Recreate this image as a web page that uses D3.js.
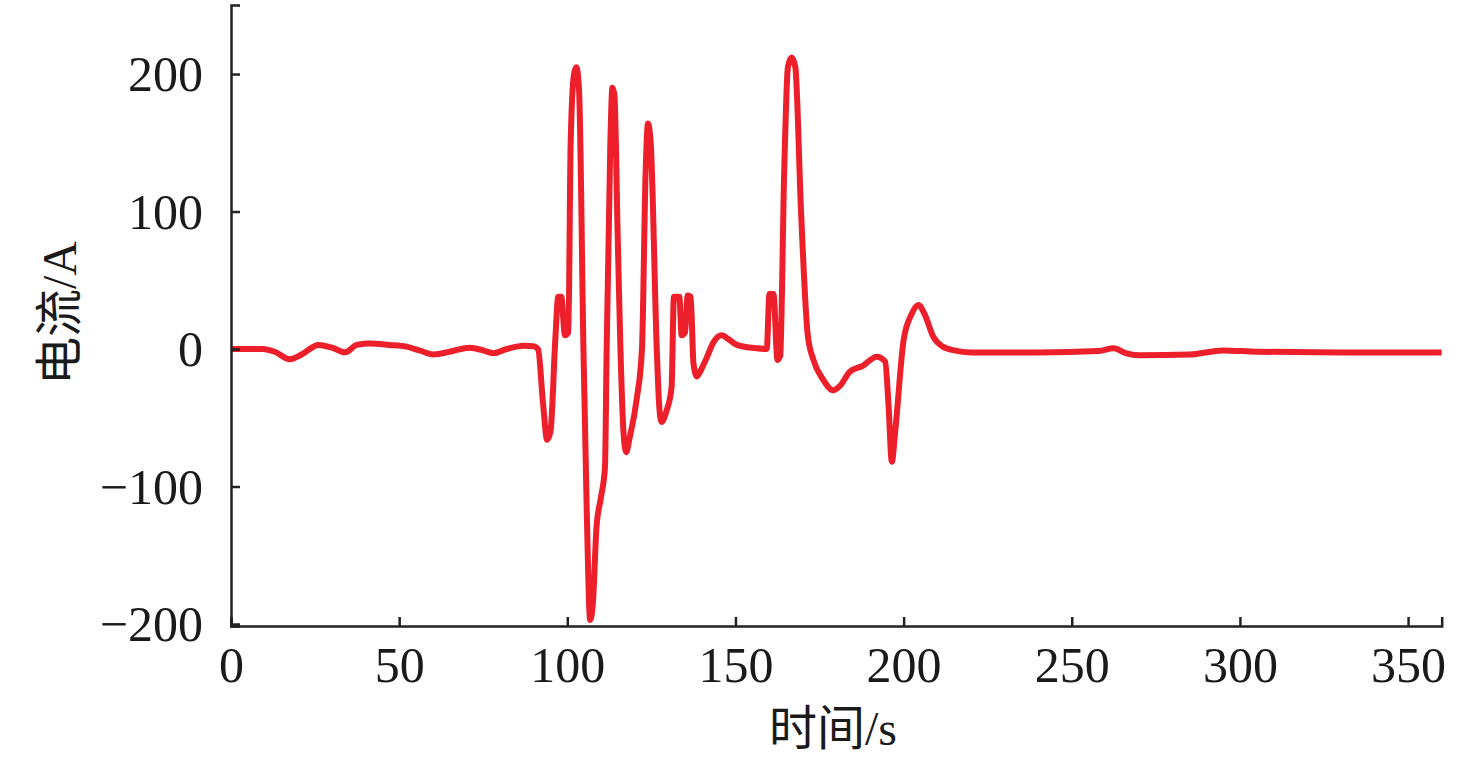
<!DOCTYPE html>
<html>
<head>
<meta charset="utf-8">
<script src="https://cdn.jsdelivr.net/npm/d3@7"></script>
<style>
  html, body { margin: 0; padding: 0; background: #fff; }
  svg text { font-family: "Liberation Serif", "Times New Roman", "Noto Sans CJK SC", serif; fill: #1a1a1a; }
</style>
</head>
<body>
<svg id="chart" width="1476" height="762"></svg>
<script>
// ---- data ----
const timeS = [0,5,9.5,13,17.5,21,26,30,34,37.4,
  41.3,47,52.2,56,60.2,65,71,75,78,82,
  87,90,91.3,92.8,94,95,96.5,97.3,98.2,99.3,
  100.3,101,102,102.7,103.5,104.8,105.8,106.8,107.6,108.7,
  110,111.2,111.7,112.8,113.4,114,115,115.8,116.7,117.5,
  118.5,120.6,122.2,123.3,124,124.8,126.6,127.3,128,129.5,
  131,131.7,133.3,134,135,135.8,136.7,137.5,138.5,140,
  141.5,143.5,145.9,148,150.4,156.3,159.3,160.1,161.3,162.5,
  163.3,164.5,165.6,166.7,167.8,169.5,171.5,173.2,176,179,
  181,184,188,192,194.5,195.5,196.5,197.5,200,202.3,
  204.4,206.3,208.8,211.5,215,220,240,258,262.5,266,
  270,285,295,305,330,360];
const currentA = [0,0,0,-2,-7.5,-4,3,1,-2.4,3,
  4,3,1.7,-1,-3.9,-2,1,-1,-3,0,
  2.4,2,0,-40,-66,-60,10,38,38,10,
  12,150,200,205,188,0,-120,-197,-185,-129,
  -108,-86,0,150,190,185,80,0,-60,-75,
  -65,-37,0,130,164,150,0,-40,-53,-45,
  -28,38,38,10,12,39,38,-10,-20,-14,
  -6,5,10,7,3,0.5,0,40,40,-8,
  -5,130,205,212,205,100,10,-8,-22,-30,
  -27,-16.5,-12,-5.6,-9,-40,-82,-60,6.5,25,
  32,25,9,2,-1,-2.5,-2.5,-1.5,0.5,-3,
  -4.5,-4,-1,-2,-2.5,-2.5];
const xTicks = [0,50,100,150,200,250,300,350];
const yTicks = [-200,-100,0,100,200];
const xTitle = "时间/s";
const yTitle = "电流/A";

// ---- layout ----
const svg = d3.select("#chart");
const x = d3.scaleLinear().domain([0, 360]).range([231, 1441.7]);
const y = d3.scaleLinear().domain([-201.45, 250.2]).range([626, 5]);

const data = timeS.map((t, k) => ({t, v: currentA[k]}));

// line
const line = d3.line().x(d => x(d.t)).y(d => y(d.v)).curve(d3.curveMonotoneX);
svg.append("path")
  .datum(data)
  .attr("d", line)
  .attr("fill", "none")
  .attr("stroke", "#ec1f2a")
  .attr("stroke-width", 6)
  .attr("stroke-linejoin", "round")
  .attr("stroke-linecap", "butt");

// axes
const fmt = d => (d < 0 ? "\u2212" + Math.abs(d) : String(d));
const yAxis = d3.axisLeft(y).tickValues(yTicks).tickSize(-9).tickPadding(28).tickFormat(fmt);
const gy = svg.append("g").attr("transform", `translate(${x(0)},0)`).call(yAxis);
const xAxis = d3.axisBottom(x).tickValues(xTicks).tickSize(-9).tickPadding(20).tickFormat(fmt);
const gx = svg.append("g").attr("transform", `translate(0,${y.range()[0]})`).call(xAxis);

[gy, gx].forEach(g => {
  g.select(".domain").attr("stroke", "#222").attr("stroke-width", 2.5);
  g.selectAll(".tick line").attr("stroke", "#222").attr("stroke-width", 2.5);
  g.selectAll(".tick text").style("font-size", "50px").attr("fill", "#1a1a1a");
});
gy.selectAll(".tick text").attr("dy", "0.33em");
gx.selectAll(".tick text").attr("dy", "0.71em");

// titles
svg.append("text")
  .attr("x", 833).attr("y", 745)
  .attr("text-anchor", "middle")
  .style("font-size", "48px")
  .text(xTitle);
svg.append("text")
  .attr("transform", "translate(76,313) rotate(-90)")
  .attr("text-anchor", "middle")
  .style("font-size", "48px")
  .text(yTitle);
</script>
</body>
</html>
